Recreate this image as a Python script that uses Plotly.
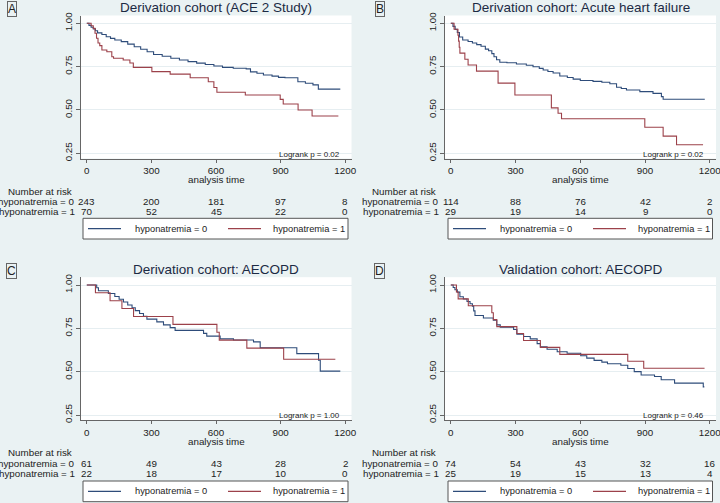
import plotly.graph_objects as go

W, H = 720, 503
def px(x):
    return x / W
def py(y):
    return 1 - y / H

FONT = "Liberation Sans, Arial, Helvetica, sans-serif"
BG = "#EAF2F3"
BLUE = "#2e4c7a"
RED = "#9c414a"
TXT = "#222222"

# ---------------- data ----------------
titles = ["Derivation cohort (ACE 2 Study)",
          "Derivation cohort: Acute heart failure",
          "Derivation cohort: AECOPD",
          "Validation cohort: AECOPD"]
panel_letters = ["A", "B", "C", "D"]
logrank = ["Logrank p = 0.02", "Logrank p = 0.02", "Logrank p = 1.00", "Logrank p = 0.46"]
series_names = ["hyponatremia = 0", "hyponatremia = 1"]
risk_times = [0, 300, 600, 900, 1200]

# Panel A
a0_t = [0, 10, 20, 30, 40, 50, 70, 90, 110, 130, 160, 190, 220, 250, 280, 310, 350, 390, 430, 470,
        510, 550, 590, 630, 680, 740, 760, 790, 820, 860, 890, 920, 980, 1015, 1050, 1075, 1177]
a0_s = [1.0, 0.988, 0.977, 0.968, 0.957, 0.945, 0.935, 0.922, 0.913, 0.904, 0.894, 0.88, 0.865, 0.85,
        0.836, 0.82, 0.81, 0.798, 0.788, 0.779, 0.77, 0.762, 0.754, 0.746, 0.741, 0.737, 0.72, 0.712,
        0.702, 0.695, 0.688, 0.686, 0.663, 0.654, 0.645, 0.62, 0.62]
a1_t = [0, 20, 30, 38, 45, 52, 60, 70, 93, 116, 124, 169, 200, 216, 302, 387, 480, 564, 590, 604,
        736, 898, 912, 981, 1046, 1168]
a1_s = [1.0, 0.986, 0.971, 0.943, 0.914, 0.886, 0.871, 0.846, 0.836, 0.807, 0.798, 0.788, 0.771,
        0.746, 0.721, 0.707, 0.686, 0.663, 0.63, 0.602, 0.586, 0.561, 0.534, 0.5, 0.465, 0.465]
a_risk0 = [243, 200, 181, 97, 8]
a_risk1 = [70, 52, 45, 22, 0]

# Panel B
b0_t = [0, 10, 20, 30, 40, 55, 80, 100, 120, 140, 160, 175, 190, 200, 212, 227, 260, 304, 350, 381,
        410, 428, 450, 474, 505, 540, 567, 600, 659, 700, 737, 768, 790, 814, 876, 937, 976, 984, 1177]
b0_s = [1.0, 0.982, 0.965, 0.947, 0.921, 0.904, 0.895, 0.886, 0.877, 0.868, 0.851, 0.842, 0.825,
        0.807, 0.79, 0.775, 0.772, 0.765, 0.758, 0.749, 0.74, 0.731, 0.722, 0.713, 0.696, 0.687,
        0.678, 0.67, 0.665, 0.66, 0.651, 0.631, 0.624, 0.615, 0.606, 0.596, 0.577, 0.562, 0.562]
b1_t = [0, 15, 33, 36, 39, 42, 65, 80, 119, 219, 297, 466, 497, 513, 899, 984, 1046, 1169]
b1_s = [1.0, 0.966, 0.931, 0.897, 0.862, 0.828, 0.793, 0.759, 0.724, 0.655, 0.586, 0.512, 0.481,
        0.449, 0.4, 0.349, 0.299, 0.299]
b_risk0 = [114, 88, 76, 42, 2]
b_risk1 = [29, 19, 14, 9, 0]

# Panel C
c0_t = [0, 46, 54, 100, 130, 150, 170, 190, 210, 225, 245, 263, 279, 325, 356, 387, 410, 542, 557,
        619, 681, 774, 805, 975, 1076, 1084, 1177]
c0_s = [1.0, 0.984, 0.967, 0.951, 0.934, 0.918, 0.902, 0.885, 0.869, 0.852, 0.836, 0.82, 0.803,
        0.787, 0.77, 0.754, 0.738, 0.721, 0.705, 0.689, 0.683, 0.672, 0.638, 0.604, 0.566, 0.503, 0.503]
c1_t = [0, 40, 108, 163, 217, 400, 604, 615, 743, 914, 1154]
c1_s = [1.0, 0.955, 0.909, 0.864, 0.818, 0.773, 0.727, 0.682, 0.636, 0.572, 0.572]
c_risk0 = [61, 49, 43, 28, 2]
c_risk1 = [22, 18, 17, 10, 0]

# Panel D
d0_t = [0, 11, 19, 30, 42, 58, 75, 89, 100, 106, 112, 151, 197, 213, 229, 291, 306, 337, 368, 400,
        415, 446, 493, 539, 602, 630, 664, 700, 726, 788, 820, 850, 882, 944, 975, 1037, 1170, 1175]
d0_s = [1.0, 0.986, 0.973, 0.959, 0.932, 0.919, 0.905, 0.892, 0.878, 0.851, 0.824, 0.81, 0.797,
        0.77, 0.756, 0.743, 0.716, 0.703, 0.689, 0.662, 0.643, 0.629, 0.615, 0.606, 0.592, 0.578,
        0.565, 0.555, 0.546, 0.537, 0.518, 0.5, 0.481, 0.472, 0.453, 0.434, 0.412, 0.412]
d1_t = [0, 26, 34, 81, 190, 197, 213, 306, 337, 415, 505, 820, 894, 1176]
d1_s = [1.0, 0.96, 0.92, 0.88, 0.84, 0.80, 0.76, 0.72, 0.68, 0.64, 0.60, 0.56, 0.52, 0.52]
d_risk0 = [74, 54, 43, 32, 16]
d_risk1 = [25, 19, 15, 13, 4]

curves = [((a0_t, a0_s), (a1_t, a1_s)), ((b0_t, b0_s), (b1_t, b1_s)),
          ((c0_t, c0_s), (c1_t, c1_s)), ((d0_t, d0_s), (d1_t, d1_s))]
risks = [(a_risk0, a_risk1), (b_risk0, b_risk1), (c_risk0, c_risk1), (d_risk0, d_risk1)]

# ---------------- layout geometry (pixels) ----------------
# plot area: left, right, top, bottom
boxes = [(81, 351.5, 15.5, 158.5), (445, 716, 15.5, 158.5),
         (81, 351.5, 277.2, 420.2), (445, 716, 277.2, 420.2)]
XR = [-27, 1229]
YR = [0.22, 1.045]

fig = go.Figure()
annotations = []
shapes = []

for i in range(4):
    ax = "" if i == 0 else str(i + 1)
    xref = "x" + ax
    yref = "y" + ax
    l, r, t, b = boxes[i]
    for k, (tt, ss) in enumerate(curves[i]):
        fig.add_trace(go.Scatter(x=tt, y=ss, mode="lines", line_shape="hv",
                                 line=dict(color=BLUE if k == 0 else RED, width=1.1),
                                 xaxis=xref, yaxis=yref, showlegend=False,
                                 name=series_names[k]))
    fig.layout["xaxis" + ax] = dict(
        domain=[px(l), px(r)], range=XR, anchor=yref,
        tickvals=risk_times, ticktext=[str(v) for v in risk_times],
        ticks="outside", ticklen=3, tickcolor="#666", showline=True, linecolor="#666",
        linewidth=1, showgrid=False, zeroline=False, ticklabeloverflow="allow",
        tickfont=dict(size=9.8, color=TXT, family=FONT))
    fig.layout["yaxis" + ax] = dict(
        domain=[py(b), py(t)], range=YR, anchor=xref,
        tickvals=[0.25, 0.5, 0.75, 1.0], ticktext=["0.25", "0.50", "0.75", "1.00"],
        tickangle=-90, ticks="outside", ticklen=4, tickcolor="#666", showline=True,
        linecolor="#666", linewidth=1, showgrid=True, gridcolor="#E6EEF1", gridwidth=1,
        zeroline=False, ticklabeloverflow="allow",
        tickfont=dict(size=9.8, color=TXT, family=FONT))

    cx = (l + r) / 2
    # title
    annotations.append(dict(text=titles[i], x=px(cx), y=py(t - 7.5), xref="paper", yref="paper",
                            showarrow=False, xanchor="center", yanchor="middle",
                            font=dict(size=13.5, color="#1c2a44", family=FONT)))
    # panel letter
    lx = 11.5 if i % 2 == 0 else 379.5
    annotations.append(dict(text=panel_letters[i], x=px(lx), y=py(t - 6.5), xref="paper", yref="paper",
                            showarrow=False, xanchor="center", yanchor="middle",
                            bordercolor="#666", borderwidth=1, borderpad=0,
                            font=dict(size=12, color=TXT, family=FONT)))
    # axis title
    annotations.append(dict(text="analysis time", x=px(cx), y=py(b + 21), xref="paper", yref="paper",
                            showarrow=False, xanchor="center", yanchor="middle",
                            font=dict(size=9.8, color=TXT, family=FONT)))
    # logrank
    annotations.append(dict(text=logrank[i], x=px(r - 10), y=py(b - 4.5), xref="paper", yref="paper",
                            showarrow=False, xanchor="right", yanchor="middle",
                            font=dict(size=8, color=TXT, family=FONT)))
    # number at risk
    top_row = i < 2
    y_nr = 191 if top_row else 452.3
    y_r0 = 201 if top_row else 463.3
    y_r1 = 211 if top_row else 473.3
    lab_right = 76.5 if i % 2 == 0 else 441
    nr_right = 73.5 if i % 2 == 0 else 438
    annotations.append(dict(text="Number at risk", x=px(nr_right), y=py(y_nr), xref="paper", yref="paper",
                            showarrow=False, xanchor="right", yanchor="middle",
                            font=dict(size=9.8, color=TXT, family=FONT)))
    for k, yy in enumerate([y_r0, y_r1]):
        annotations.append(dict(text=series_names[k], x=px(lab_right), y=py(yy), xref="paper", yref="paper",
                                showarrow=False, xanchor="right", yanchor="middle",
                                font=dict(size=9.8, color=TXT, family=FONT)))
        for tv, nv in zip(risk_times, risks[i][k]):
            annotations.append(dict(text=str(nv), x=tv, y=py(yy), xref=xref, yref="paper",
                                    showarrow=False, xanchor="center", yanchor="middle",
                                    font=dict(size=9.8, color=TXT, family=FONT)))
    # legend box
    if top_row:
        lt, lb = 218.3, 239
    else:
        lt, lb = 481, 501.7
    off = 0 if i % 2 == 0 else 365
    bl, br = 83 + off, (348 if i % 2 == 0 else 712.5)
    shapes.append(dict(type="rect", xref="paper", yref="paper", x0=px(bl), x1=px(br),
                       y0=py(lb), y1=py(lt), line=dict(color="#555", width=1), fillcolor="white"))
    ly = (lt + lb) / 2
    l0 = (88 + off, 121 + off)
    l1 = (228 + off, 261 + off)
    shapes.append(dict(type="line", xref="paper", yref="paper", x0=px(l0[0]), x1=px(l0[1]),
                       y0=py(ly), y1=py(ly), line=dict(color=BLUE, width=1.1)))
    shapes.append(dict(type="line", xref="paper", yref="paper", x0=px(l1[0]), x1=px(l1[1]),
                       y0=py(ly), y1=py(ly), line=dict(color=RED, width=1.1)))
    annotations.append(dict(text=series_names[0], x=px(133 + off), y=py(ly), xref="paper", yref="paper",
                            showarrow=False, xanchor="left", yanchor="middle",
                            font=dict(size=9.3, color=TXT, family=FONT)))
    annotations.append(dict(text=series_names[1], x=px(271 + off), y=py(ly), xref="paper", yref="paper",
                            showarrow=False, xanchor="left", yanchor="middle",
                            font=dict(size=9.3, color=TXT, family=FONT)))

fig.update_layout(width=W, height=H, autosize=False,
                  margin=dict(l=0, r=0, t=0, b=0, autoexpand=False),
                  paper_bgcolor=BG, plot_bgcolor="white",
                  annotations=annotations, shapes=shapes, showlegend=False,
                  font=dict(family=FONT, color=TXT))

fig.write_html("out.html", config={"displayModeBar": False},
               post_script="document.body.style.margin='0px';document.body.style.overflow='hidden';")
